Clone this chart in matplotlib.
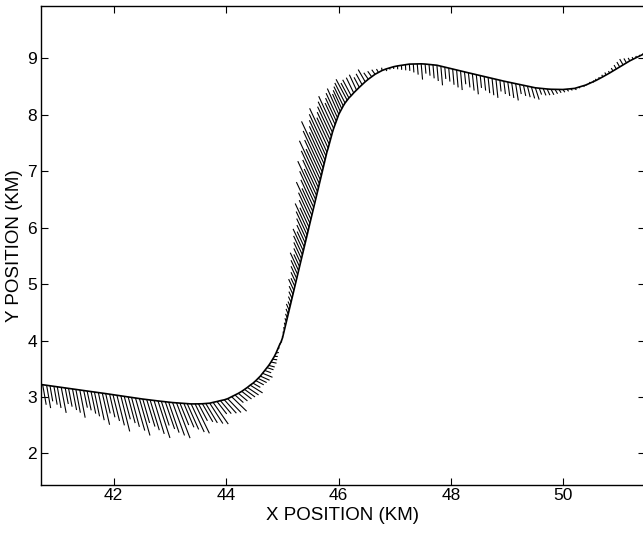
import numpy as np
import matplotlib
matplotlib.use('Agg')
import matplotlib.pyplot as plt
from matplotlib.collections import LineCollection

# ship positions along the track (km) and current vector at each position
# (length in km, direction in degrees counter-clockwise from east)
ship_x = [
    # lower leg
    40.74, 40.81, 40.87, 40.94, 41.00, 41.07, 41.14, 41.20, 41.27, 41.33,
    41.40, 41.47, 41.53, 41.60, 41.66, 41.73, 41.80, 41.86, 41.93, 41.99,
    42.06, 42.13, 42.19, 42.26, 42.32, 42.39, 42.46, 42.52, 42.59, 42.65,
    42.72, 42.79, 42.85, 42.92, 42.98, 43.05, 43.12, 43.18, 43.25, 43.31,
    43.38, 43.45, 43.51, 43.58, 43.64, 43.71, 43.77, 43.84, 43.90, 43.97,
    44.03, 44.10, 44.16, 44.22, 44.28, 44.33, 44.38, 44.43, 44.48, 44.53,
    44.57, 44.61, 44.65, 44.69, 44.73, 44.76, 44.80, 44.83, 44.86, 44.89,
    44.92, 44.95, 44.98,
    # steep leg
    45.005, 45.022, 45.038, 45.055, 45.072, 45.089, 45.106, 45.122, 45.139, 45.156,
    45.173, 45.190, 45.206, 45.223, 45.240, 45.257, 45.274, 45.290, 45.307, 45.324,
    45.341, 45.358, 45.374, 45.391, 45.408, 45.425, 45.442, 45.458, 45.475, 45.492,
    45.509, 45.526, 45.542, 45.559, 45.576, 45.593, 45.610, 45.626, 45.643, 45.660,
    45.677, 45.694, 45.710, 45.727, 45.744, 45.761, 45.778, 45.794, 45.816, 45.835,
    45.854, 45.873, 45.892, 45.914, 45.939, 45.960, 45.982, 46.005, 46.032, 46.058,
    46.085, 46.116, 46.154, 46.185, 46.225,
    # upper leg
    46.27, 46.32, 46.37, 46.42, 46.475, 46.53, 46.59, 46.65, 46.71, 46.775,
    46.84, 46.91, 46.98, 47.05, 47.12, 47.19, 47.26, 47.33, 47.40, 47.47,
    47.54, 47.61, 47.68, 47.75, 47.82, 47.89, 47.96, 48.03, 48.10, 48.17,
    48.24, 48.31, 48.38, 48.45, 48.52, 48.59, 48.66, 48.73, 48.80, 48.87,
    48.94, 49.01, 49.08, 49.15, 49.22, 49.29, 49.36, 49.43, 49.50, 49.57,
    49.64, 49.71, 49.78, 49.85, 49.92, 49.99, 50.06, 50.13, 50.20, 50.27,
    50.34, 50.40, 50.46, 50.52, 50.58, 50.64, 50.70, 50.76, 50.82, 50.88,
    50.94, 51.00, 51.06, 51.12, 51.18, 51.24, 51.30, 51.36, 51.42,
]

ship_y = [
    3.217, 3.207, 3.199, 3.189, 3.180, 3.170, 3.160, 3.152, 3.142, 3.134,
    3.124, 3.114, 3.106, 3.096, 3.088, 3.078, 3.068, 3.060, 3.050, 3.041,
    3.031, 3.020, 3.011, 3.001, 2.992, 2.981, 2.971, 2.963, 2.954, 2.947,
    2.939, 2.930, 2.923, 2.915, 2.907, 2.901, 2.896, 2.892, 2.886, 2.882,
    2.877, 2.877, 2.878, 2.880, 2.884, 2.890, 2.905, 2.920, 2.935, 2.950,
    2.970, 3.005, 3.035, 3.065, 3.100, 3.135, 3.170, 3.210, 3.245, 3.290,
    3.330, 3.370, 3.420, 3.470, 3.520, 3.560, 3.620, 3.670, 3.720, 3.780,
    3.850, 3.920, 3.980,
    4.05, 4.12, 4.19, 4.26, 4.33, 4.40, 4.47, 4.54, 4.61, 4.68,
    4.75, 4.82, 4.89, 4.96, 5.03, 5.10, 5.17, 5.24, 5.31, 5.38,
    5.45, 5.52, 5.59, 5.66, 5.73, 5.80, 5.87, 5.94, 6.01, 6.08,
    6.15, 6.22, 6.29, 6.36, 6.43, 6.50, 6.57, 6.64, 6.71, 6.78,
    6.85, 6.92, 6.99, 7.06, 7.13, 7.20, 7.27, 7.34, 7.41, 7.48,
    7.55, 7.62, 7.69, 7.76, 7.83, 7.89, 7.95, 8.01, 8.06, 8.11,
    8.16, 8.21, 8.26, 8.30, 8.34,
    8.390, 8.440, 8.489, 8.535, 8.587, 8.632, 8.676, 8.720, 8.752, 8.787,
    8.812, 8.833, 8.854, 8.868, 8.879, 8.890, 8.900, 8.902, 8.903, 8.905,
    8.901, 8.894, 8.887, 8.880, 8.863, 8.846, 8.830, 8.813, 8.796, 8.779,
    8.762, 8.746, 8.730, 8.713, 8.697, 8.680, 8.664, 8.647, 8.630, 8.614,
    8.598, 8.583, 8.567, 8.552, 8.537, 8.522, 8.508, 8.494, 8.480, 8.473,
    8.466, 8.459, 8.454, 8.453, 8.451, 8.450, 8.456, 8.463, 8.470, 8.491,
    8.512, 8.530, 8.557, 8.584, 8.611, 8.642, 8.675, 8.708, 8.742, 8.778,
    8.814, 8.850, 8.886, 8.922, 8.958, 8.989, 9.018, 9.046, 9.075,
]

cur_len = [
    .36, .41, .28, .33, .38, .46, .29, .33, .38, .42,
    .50, .31, .35, .40, .44, .50, .575, .36, .42, .48,
    .55, .65, .42, .48, .54, .60, .68, .44, .50, .56,
    .62, .69, .45, .51, .57, .62, .67, .42, .46, .50,
    .55, .58, .34, .37, .40, .43, .47, .28, .30, .32,
    .34, .37, .20, .21, .22, .23, .24, .26, .15, .16,
    .17, .18, .19, .12, .12, .11, .10, .08, .06, .05,
    .04, .03, .03,
    .03, .04, .05, .06, .07, .08, .10, .12, .09, .11,
    .13, .16, .22, .16, .20, .24, .28, .35, .24, .28,
    .32, .37, .43, .30, .35, .40, .46, .54, .38, .45,
    .52, .65, .45, .54, .63, .75, .52, .62, .72, .84,
    .60, .70, .80, .91, .62, .66, .70, .74, .78, .52,
    .55, .58, .60, .63, .42, .45, .48, .50, .34, .36,
    .38, .40, .42, .30, .32,
    .30, .30, .20, .22, .25, .14, .12, .10, .07, .05,
    .04, .03, .04, .06, .08, .10, .12, .15, .19, .28,
    .17, .20, .24, .28, .34, .21, .24, .28, .31, .34,
    .22, .26, .30, .35, .22, .25, .28, .30, .33, .20,
    .23, .25, .27, .30, .17, .19, .20, .21, .22, .12,
    .13, .12, .11, .09, .07, .06, .05, .04, .04, .03,
    .03, .03, .03, .03, .03, .03, .04, .05, .04, .06,
    .08, .10, .12, .09, .06, .04, .03, .02, .02,
]

cur_dir = [
    -80, -80, -80, -80, -80, -79, -79, -79, -79, -79,
    -79, -78, -78, -78, -78, -78, -77, -77, -77, -76,
    -76, -76, -75, -75, -75, -74, -74, -74, -73, -73,
    -73, -72, -72, -71, -71, -70, -69, -68, -67, -66,
    -65, -64, -62, -60, -59, -57, -55, -52, -50, -48,
    -46, -44, -42, -40, -38, -36, -34, -32, -30, -28,
    -26, -24, -22, -20, -18, -15, -12, -8, -2, 10,
    40, 70, 90,
    95, 100, 105, 108, 110, 112, 113, 114, 114, 115,
    115, 115, 115, 115, 115, 115, 115, 115, 115, 115,
    115, 115, 115, 115, 115, 115, 115, 115, 115, 115,
    115, 115, 115, 115, 115, 115, 115, 115, 115, 115,
    115, 115, 115, 115, 115, 115, 115, 115, 115, 115,
    115, 115, 115, 115, 115, 115, 115, 114, 114, 115,
    116, 117, 118, 118, 118,
    116, 115, 118, 119, 120, 125, 126, 126, 120, 100,
    -60, -80, -88, -88, -88, -87, -86, -86, -85, -85,
    -85, -85, -85, -85, -85, -85, -85, -85, -85, -85,
    -84, -84, -84, -84, -84, -84, -84, -84, -84, -84,
    -83, -82, -82, -81, -80, -78, -76, -74, -72, -70,
    -68, -66, -63, -60, -57, -54, -50, -45, -40, -30,
    0, 30, 60, 90, 110, 115, 118, 120, 120, 120,
    120, 120, 120, 120, 120, 120, 120, 120, 120,
]

x_ticks = [42, 44, 46, 48, 50]
y_ticks = [2, 3, 4, 5, 6, 7, 8, 9]

plt.rcParams['font.family'] = ['Liberation Sans', 'DejaVu Sans']

x = np.array(ship_x)
y = np.array(ship_y)
length = np.array(cur_len)
theta = np.deg2rad(np.array(cur_dir))
tip_x = x + length * np.cos(theta)
tip_y = y + length * np.sin(theta)
segs = np.stack([np.column_stack([x, y]), np.column_stack([tip_x, tip_y])], axis=1)

fig = plt.figure(figsize=(6.43, 5.34), dpi=100)
ax = fig.add_axes([41 / 643, 49 / 534, 604 / 643, 479 / 534])

ax.add_collection(LineCollection(segs, colors='black', linewidths=0.8))
ax.plot(x, y, color='black', linewidth=1.2)

ax.set_xlim(40.71, 51.45)
ax.set_ylim(1.44, 9.93)
ax.set_xticks(x_ticks)
ax.set_yticks(y_ticks)
ax.tick_params(direction='in', top=True, right=True, length=5, width=0.8,
               labelsize=12.5)
ax.tick_params(axis='x', pad=2)
ax.tick_params(axis='y', pad=3)
for s in ax.spines.values():
    s.set_linewidth(1.0)

ax.set_xlabel('X POSITION (KM)', fontsize=13.5, labelpad=3)
ax.set_ylabel('Y POSITION (KM)', fontsize=13.5, labelpad=3)

fig.savefig('out.png', dpi=100)
